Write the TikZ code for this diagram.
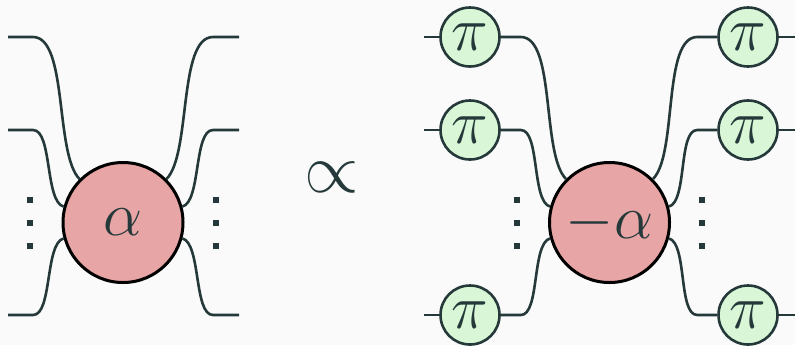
\RequirePackage{fix-cm}
\documentclass[tikz,border=0pt]{standalone}
\usepackage{amsmath}
\usepackage{xcolor}
\usepackage{tikz}
\usetikzlibrary{positioning}

\definecolor{wirecol}{HTML}{25393A}
\definecolor{redfill}{HTML}{E8A5A5}
\definecolor{greenfill}{HTML}{D9F7D6}
\definecolor{bgcol}{HTML}{FAFAFA}

\begin{document}
\begin{tikzpicture}[
    x=0.5pt, y=0.5pt,
    spider/.style={draw=black, circle, line width=1.5pt, fill=redfill, minimum size=60pt, inner sep=0pt, text=wirecol, font=\fontsize{31}{34}\selectfont},
    phase/.style={draw=wirecol, circle, line width=1.3pt, fill=greenfill, minimum size=29.5pt, inner sep=0pt, text=wirecol, font=\fontsize{31}{34}\selectfont},
    wire/.style={draw=wirecol, line width=1.3pt, looseness=0.6}
]

% Background
\fill[bgcol] (0,0) rectangle (795,345);
\useasboundingbox (0,0) rectangle (795,345);

% Left spider
\node (alpha) [spider] at (123,122.5) {$\alpha$};
\coordinate (in1) at (8,308);
\coordinate (in2) at (8,215);
\coordinate (in3) at (8,30);
\coordinate (out1) at (239,308);
\coordinate (out2) at (239,215);
\coordinate (out3) at (239,30);

\draw [wire] (in1) -- ++(25,0) to[out=0, in=135] (alpha.135);
\draw [wire] (in2) -- ++(25,0) to[out=0, in=165] (alpha.165);
\draw [wire] (in3) -- ++(25,0) to[out=0, in=195] (alpha.195);
\draw [wire] (out1) -- ++(-26,0) to[out=180, in=45] (alpha.45);
\draw [wire] (out2) -- ++(-26,0) to[out=180, in=15] (alpha.15);
\draw [wire] (out3) -- ++(-26,0) to[out=180, in=-15] (alpha.-15);

% Dots
\fill[wirecol] (27,142.5) rectangle ++(6,6);
\fill[wirecol] (27,119.5) rectangle ++(6,6);
\fill[wirecol] (27,96.5) rectangle ++(6,6);
\fill[wirecol] (213,142.5) rectangle ++(6,6);
\fill[wirecol] (213,119.5) rectangle ++(6,6);
\fill[wirecol] (213,96.5) rectangle ++(6,6);

% Proportional to
\node (prop) [text=wirecol, font=\fontsize{35}{38}\selectfont, inner sep=0pt] at (332,168) {$\propto$};

% Right spider with pi phases
\node (malpha) [spider] at (609.5,122.5) {$-\alpha$};
\node (pl1) [phase] at (470,308) {$\pi$};
\node (pl2) [phase] at (470,215) {$\pi$};
\node (pl3) [phase] at (470,30) {$\pi$};
\node (pr1) [phase] at (748,308) {$\pi$};
\node (pr2) [phase] at (748,215) {$\pi$};
\node (pr3) [phase] at (748,30) {$\pi$};

\coordinate (min1) at (424,308);
\coordinate (min2) at (424,215);
\coordinate (min3) at (424,30);
\coordinate (mout1) at (795,308);
\coordinate (mout2) at (795,215);
\coordinate (mout3) at (795,30);

% Stubs
\draw [wire] (min1) -- (pl1);
\draw [wire] (min2) -- (pl2);
\draw [wire] (min3) -- (pl3);
\draw [wire] (pr1) -- (mout1);
\draw [wire] (pr2) -- (mout2);
\draw [wire] (pr3) -- (mout3);

% Wires into the spider
\draw [wire] (pl1.east) -- ++(20,0) to[out=0, in=135] (malpha.135);
\draw [wire] (pl2.east) -- ++(20,0) to[out=0, in=165] (malpha.165);
\draw [wire] (pl3.east) -- ++(20,0) to[out=0, in=195] (malpha.195);
\draw [wire] (pr1.west) -- ++(-20,0) to[out=180, in=45] (malpha.45);
\draw [wire] (pr2.west) -- ++(-20,0) to[out=180, in=15] (malpha.15);
\draw [wire] (pr3.west) -- ++(-20,0) to[out=180, in=-15] (malpha.-15);

% Dots
\fill[wirecol] (514,142.5) rectangle ++(6,6);
\fill[wirecol] (514,119.5) rectangle ++(6,6);
\fill[wirecol] (514,96.5) rectangle ++(6,6);
\fill[wirecol] (699,142.5) rectangle ++(6,6);
\fill[wirecol] (699,119.5) rectangle ++(6,6);
\fill[wirecol] (699,96.5) rectangle ++(6,6);

\end{tikzpicture}
\end{document}
